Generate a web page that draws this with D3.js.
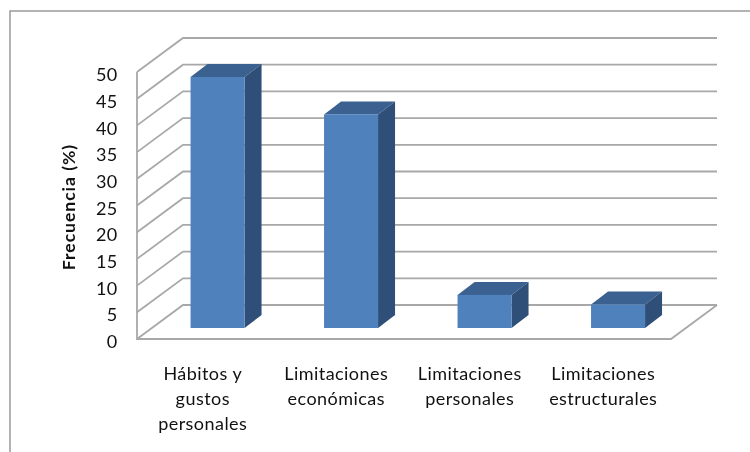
<!DOCTYPE html>
<html><head><meta charset="utf-8">
<script src="https://cdnjs.cloudflare.com/ajax/libs/d3/7.8.5/d3.min.js"></script>
<style>html,body{margin:0;padding:0;background:#fff}svg{display:block;filter:blur(0.35px)}
text{font-family:Lato,"Open Sans",sans-serif;fill:#111}</style></head><body>
<svg id="c" width="750" height="452"></svg>
<script>
const categories=[["Hábitos y","gustos","personales"],["Limitaciones","económicas"],["Limitaciones","personales"],["Limitaciones","estructurales"]];
const values=[47,40,6.2,4.4];
const yTicks=[0,5,10,15,20,25,30,35,40,45,50];
const yTitle="Frecuencia (%)";

const svg=d3.select("#c");
const x=d3.scaleBand().domain(d3.range(categories.length)).range([137,671]);
const y=d3.scaleLinear().domain([0,50]).range([339,72]);
const depthX=46,depthY=-34;          // wall depth
const barW=54,barDX=13.8,barDY=-11;  // bar placement inside the floor
const sideX=17,sideY=-13;            // bar depth
const grid="#a8a8a8";

svg.append("rect").attr("x",10).attr("y",11).attr("width",760).attr("height",460)
  .attr("fill","#fff").attr("stroke","#9a9a9a").attr("stroke-width",1.5);

const g=svg.append("g").attr("fill","none").attr("stroke",grid).attr("stroke-width",1.8);
const L=x.range()[0],R=x.range()[1];
yTicks.forEach(t=>{
  g.append("path").attr("d",`M${L},${y(t)}L${L+depthX},${y(t)+depthY}L${R+depthX},${y(t)+depthY}`);
});
g.append("path").attr("d",`M${L},${y(50)}V${y(0)}H${R}L${R+depthX},${y(0)+depthY}`);

values.forEach((v,i)=>{
  const x0=x(i)+x.bandwidth()/2-barW/2+barDX, x1=x0+barW;
  const b=y(0)+barDY, t=y(v)+barDY;
  const s=svg.append("g");
  s.append("path").attr("fill","#3b6191").attr("d",`M${x0},${t}L${x0+sideX},${t+sideY}H${x1+sideX}L${x1},${t}Z`);
  s.append("path").attr("fill","#304f78").attr("d",`M${x1},${t}L${x1+sideX},${t+sideY}V${b+sideY}L${x1},${b}Z`);
  s.append("rect").attr("fill","#4f81bd").attr("x",x0).attr("y",t).attr("width",barW).attr("height",b-t);
});

const ax=svg.append("g").attr("transform","translate(117.5,2.5)")
  .call(d3.axisLeft(y).tickValues(yTicks).tickSize(0).tickPadding(0));
ax.select(".domain").remove();
ax.selectAll("text").attr("font-size",18).attr("text-anchor","end").attr("dy","0.34em").attr("fill","#111")
  .style("font-family","Lato").style("letter-spacing","0.3px");

svg.append("text").attr("transform","translate(75,207) rotate(-90)").attr("text-anchor","middle")
  .attr("font-size",17.5).attr("font-weight",700).style("letter-spacing","1px").text(yTitle);

categories.forEach((lines,i)=>{
  const cx=x(i)+x.bandwidth()/2-1;
  lines.forEach((l,k)=>svg.append("text").attr("x",cx).attr("y",380+k*25).attr("text-anchor","middle")
    .attr("font-size",18).style("letter-spacing","0.45px").text(l));
});
</script></body></html>
